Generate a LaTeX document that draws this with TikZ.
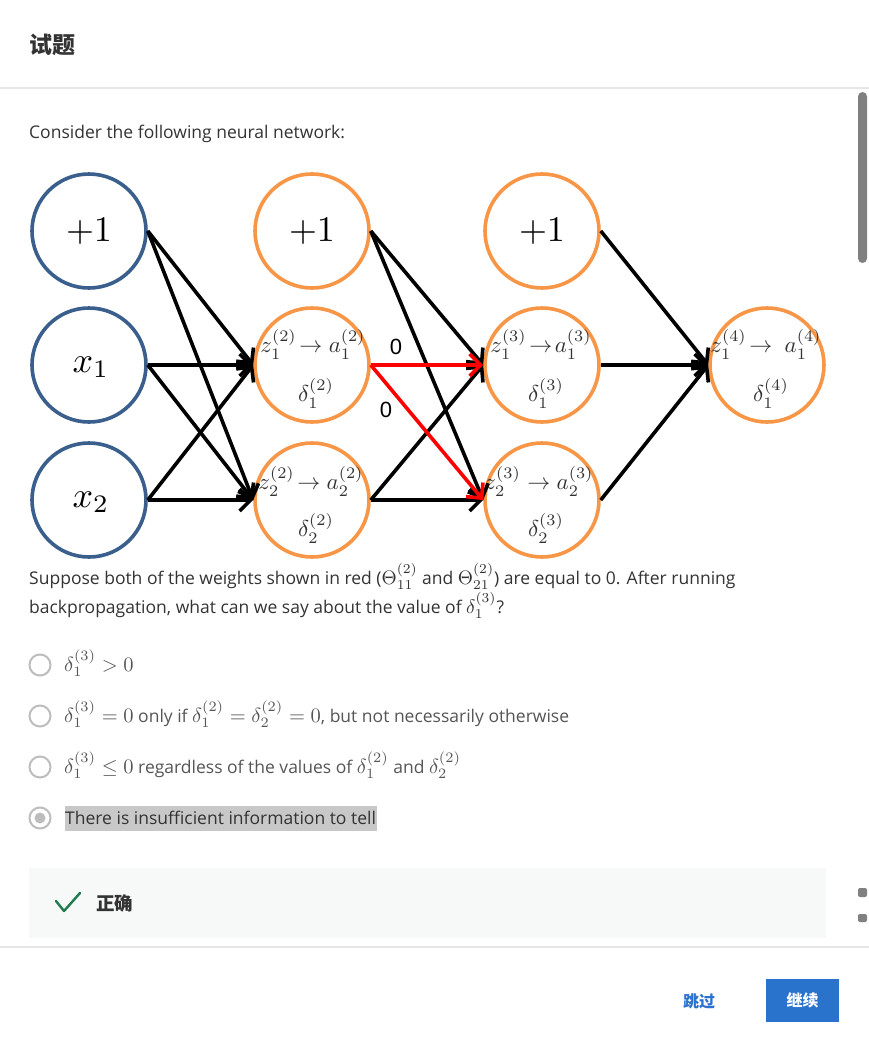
\documentclass[tikz,border=0pt]{standalone}
\usepackage[no-math]{fontspec}
\usepackage{graphicx}
\setmainfont{Open Sans}
\newfontfamily\cjk{Noto Sans CJK SC}
\newfontfamily\arialf{Liberation Sans}
\usetikzlibrary{arrows.meta}
\definecolor{nblue}{HTML}{3A5F8C}
\definecolor{norange}{HTML}{F79646}
\definecolor{txt}{HTML}{333333}
\definecolor{opt}{HTML}{555555}
\definecolor{sepc}{HTML}{E6E6E6}
\definecolor{radio}{HTML}{BDBDBD}
\definecolor{hl}{HTML}{C8C8C8}
\definecolor{fb}{HTML}{F6F9F8}
\definecolor{okgreen}{HTML}{1F7A4D}
\definecolor{btn}{HTML}{2A73CC}
\definecolor{scroll}{HTML}{808080}
\newcommand\mth[1]{\scalebox{2.05}{\normalsize$#1$}}
\newcommand\qmth[1]{\scalebox{1.95}{\normalsize$#1$}}
\begin{document}
\begin{tikzpicture}[x=1pt,y=-1pt,
  incirc/.style={circle,draw=nblue,line width=3.6pt,minimum size=114pt,inner sep=0pt},
  hcirc/.style={circle,draw=norange,line width=3.6pt,minimum size=114pt,inner sep=0pt},
  bigtext/.style={inner sep=0pt,scale=3.6,font=\normalsize},
  intext/.style={inner sep=0pt,scale=2.3,font=\normalsize,text=black!80},
  conn/.style={line width=3.6pt,draw=black,-{Straight Barb[length=11pt,width=22pt]}},
  redconn/.style={conn,draw=red},
  zero/.style={inner sep=0pt,font=\arialf\fontsize{22}{24}\selectfont},
  uitext/.style={anchor=base west,inner sep=0pt,font=\fontsize{17.5}{20}\selectfont,text=txt},
  opttext/.style={anchor=base west,inner sep=0pt,font=\fontsize{17.5}{20}\selectfont,text=opt},
  radiob/.style={circle,draw=radio,line width=2pt,minimum size=21pt,inner sep=0pt}
]
\useasboundingbox (0,0) rectangle (869,1052);
\fill[white] (0,0) rectangle (869,1052);

% header
\node[anchor=west,inner sep=0pt,font=\cjk\bfseries\fontsize{23}{26}\selectfont,text=txt] (title) at (29,45) {试题};
\draw[sepc,line width=1.2pt] (0,88) -- (869,88);
\fill[scroll,rounded corners=4.5pt] (858,92) rectangle (867,263);

\node[uitext] (intro) at (29,138) {Consider the following neural network:};

% network nodes
\node[incirc] (b1) at (89,231) {};
\node[incirc] (x1) at (89,365) {};
\node[incirc] (x2) at (89,500) {};
\node[bigtext] (b1t) at (89,231) {$+1$};
\node[bigtext] (x1t) at (91,367) {$x_1$};
\node[bigtext] (x2t) at (91,502) {$x_2$};

\node[hcirc] (b2) at (312,231) {};
\node[bigtext] (b2t) at (312,231) {$+1$};
\node[hcirc] (h21) at (312,365) {};
\node[hcirc] (h22) at (312,500) {};
\node[intext] (h21a) at (313,344) {$z_1^{(2)}\!\to a_1^{(2)}$};
\node[intext] (h21b) at (316,393) {$\delta_1^{(2)}$};
\node[intext] (h22a) at (311,481) {$z_2^{(2)}\!\to a_2^{(2)}$};
\node[intext] (h22b) at (316,528) {$\delta_2^{(2)}$};

\node[hcirc] (b3) at (542,231) {};
\node[bigtext] (b3t) at (542,231) {$+1$};
\node[hcirc] (h31) at (542,365) {};
\node[hcirc] (h32) at (542,500) {};
\node[intext] (h31a) at (541,344) {$z_1^{(3)}\!\to\! a_1^{(3)}$};
\node[intext] (h31b) at (546,393) {$\delta_1^{(3)}$};
\node[intext] (h32a) at (539,481) {$z_2^{(3)}\to a_2^{(3)}$};
\node[intext] (h32b) at (546,528) {$\delta_2^{(3)}$};

\node[hcirc] (h41) at (767,365) {};
\node[intext] (h41a) at (766,344) {$z_1^{(4)}\!\to\ a_1^{(4)}$};
\node[intext] (h41b) at (771,393) {$\delta_1^{(4)}$};

% connections layer 1 -> 2
\foreach \s in {b1,x1,x2}{
  \draw[conn] (\s.east) -- (h21.west);
  \draw[conn] (\s.east) -- (h22.west);
}
% layer 2 -> 3
\draw[conn] (b2.east) -- (h31.west);
\draw[conn] (b2.east) -- (h32.west);
\draw[conn] (h22.east) -- (h31.west);
\draw[conn] (h22.east) -- (h32.west);
\draw[redconn] (h21.east) -- (h31.west);
\draw[redconn] (h21.east) -- (h32.west);
% layer 3 -> 4
\draw[conn] (b3.east) -- (h41.west);
\draw[conn] (h31.east) -- (h41.west);
\draw[conn] (h32.east) -- (h41.west);

\node[zero] (w1) at (396,347) {0};
\node[zero] (w2) at (386,410) {0};

% question
\node[uitext] (q1) at (29,584) {Suppose both of the weights shown in red (\qmth{\Theta^{(2)}_{11}} and \qmth{\Theta^{(2)}_{21}}) are equal to 0. After running};
\node[uitext] (q2) at (29,613) {backpropagation, what can we say about the value of \qmth{\delta_1^{(3)}}?};

% options
\node[radiob] (r1) at (40,665) {};
\node[radiob] (r2) at (40,716) {};
\node[radiob] (r3) at (40,767) {};
\node[radiob] (r4) at (40,818) {};
\fill[radio] (r4.center) circle (5.5pt);

\node[opttext] (o1) at (64,671) {\mth{\delta_1^{(3)} > 0}};
\node[opttext] (o2) at (64,722) {\mth{\delta_1^{(3)} = 0} only if \mth{\delta_1^{(2)} = \delta_2^{(2)} = 0}, but not necessarily otherwise};
\node[opttext] (o3) at (64,773) {\mth{\delta_1^{(3)} \le 0} regardless of the values of \mth{\delta_1^{(2)}} and \mth{\delta_2^{(2)}}};
\fill[hl] (65,806) rectangle (377,831);
\node[opttext,text=txt] (o4) at (65,824) {There is insufficient information to tell};

% feedback
\fill[fb] (29,868) rectangle (826,938);
\draw[okgreen,line width=2.4pt,line join=round,line cap=round] (56,901) -- (64,911) -- (80,893);
\node[anchor=west,inner sep=0pt,font=\cjk\bfseries\fontsize{18.5}{22}\selectfont,text=txt] (ok) at (96,903) {正确};
\fill[scroll,rounded corners=2pt] (858,888) rectangle (867,897);
\fill[scroll,rounded corners=2pt] (858,914) rectangle (867,922);

% footer
\draw[sepc,line width=1.2pt] (0,947) -- (869,947);
\node[anchor=west,inner sep=0pt,font=\cjk\bfseries\fontsize{16}{20}\selectfont,text=btn] (skip) at (683,1001) {跳过};
\node[fill=btn,minimum width=73pt,minimum height=43pt,inner sep=0pt,font=\cjk\bfseries\fontsize{16}{20}\selectfont,text=white] (cont) at (802.5,1000.5) {继续};
\end{tikzpicture}
\end{document}
